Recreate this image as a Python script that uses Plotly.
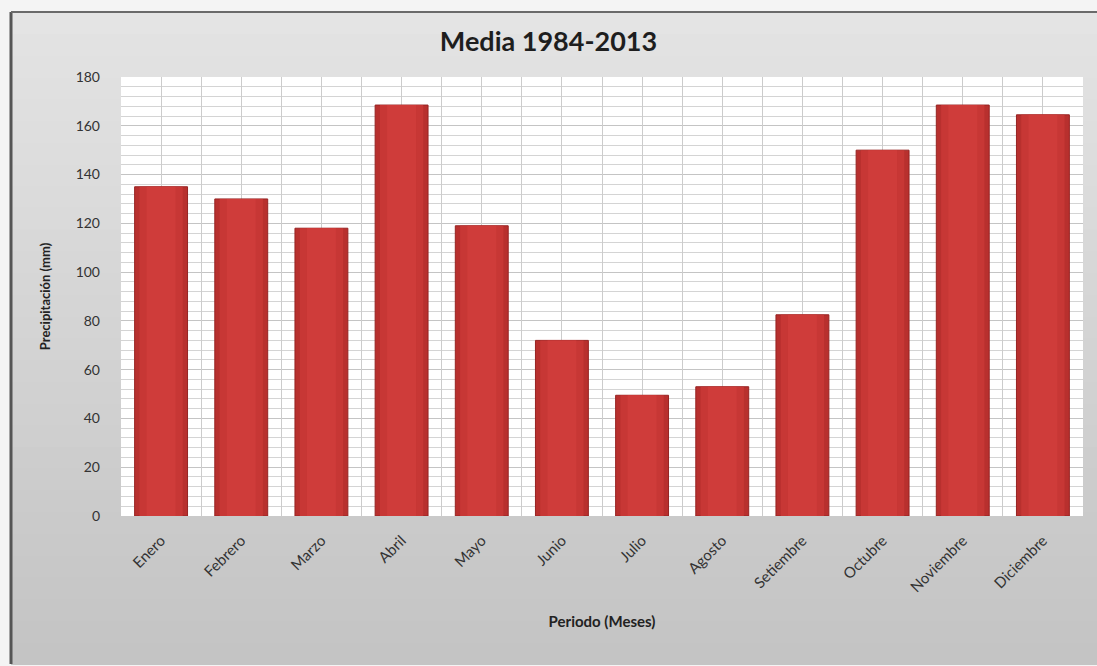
import plotly.graph_objects as go

meses = ["Enero", "Febrero", "Marzo", "Abril", "Mayo", "Junio", "Julio",
         "Agosto", "Setiembre", "Octubre", "Noviembre", "Diciembre"]
precipitacion = [135, 130, 118, 168.5, 119, 72, 49.5, 53, 82.5, 150, 168.5, 164.5]
titulo = "Media 1984-2013"
eje_y = "Precipitación (mm)"
eje_x = "Periodo (Meses)"

FONT = "Lato"
W, H = 1097, 666
ML, MR, MT, MB = 121, 14, 77, 150
PW, PH = W - ML - MR, H - MT - MB


def px_x(p):
    return (p - ML) / PW


def px_y(p):
    return (H - MB - p) / PH


fig = go.Figure()

# invisible trace to activate the vertical-grid overlay axis
fig.add_trace(go.Scatter(x=[0], y=[0], xaxis="x2", mode="markers",
                         marker=dict(opacity=0), hoverinfo="skip",
                         showlegend=False))
# main bars
fig.add_trace(go.Bar(
    x=meses, y=precipitacion, width=0.66,
    marker=dict(color="#b8302e", line=dict(color="#962322", width=1)),
    hoverinfo="x+y", showlegend=False,
))
# lighter central part to imitate the cylinder shading
fig.add_trace(go.Bar(
    x=meses, y=precipitacion, width=0.54,
    marker=dict(color="#c73735", line=dict(width=0)),
    hoverinfo="skip", showlegend=False,
))
fig.add_trace(go.Bar(
    x=meses, y=precipitacion, width=0.36,
    marker=dict(color="#cf3c3a", line=dict(width=0)),
    hoverinfo="skip", showlegend=False,
))
fig.update_layout(barmode="overlay")

# background gradient bands inside the frame
shapes = []
frame_top, frame_bot = 12, 664
frame_left = 11
n = 30
for i in range(n):
    t = i / (n - 1)
    g = int(228 - 32 * t)
    p0 = frame_top + (frame_bot - frame_top) * i / n
    p1 = frame_top + (frame_bot - frame_top) * (i + 1) / n + 1
    shapes.append(dict(type="rect", xref="paper", yref="paper",
                       x0=px_x(frame_left), x1=px_x(W + 5),
                       y0=px_y(p1), y1=px_y(p0),
                       fillcolor=f"rgb({g},{g},{g})", line=dict(width=0),
                       layer="below"))
# frame border
shapes.append(dict(type="line", xref="paper", yref="paper",
                   x0=px_x(frame_left), x1=px_x(frame_left),
                   y0=px_y(frame_bot), y1=px_y(frame_top),
                   line=dict(color="#555555", width=3)))
shapes.append(dict(type="line", xref="paper", yref="paper",
                   x0=px_x(frame_left), x1=px_x(W + 5),
                   y0=px_y(frame_top), y1=px_y(frame_top),
                   line=dict(color="#6a6a6a", width=2)))
# white plot area
shapes.append(dict(type="rect", xref="paper", yref="paper",
                   x0=0, x1=1, y0=0, y1=1, fillcolor="white",
                   line=dict(width=0), layer="below"))

fig.update_layout(
    width=W, height=H,
    margin=dict(l=ML, r=MR, t=MT, b=MB),
    paper_bgcolor="#f4f4f4",
    plot_bgcolor="rgba(0,0,0,0)",
    shapes=shapes,
    title=dict(text=f"<b>{titulo}</b>", x=0.5, xanchor="center",
               y=0.937, yanchor="middle",
               font=dict(family=FONT, size=27, color="#1e1e1e")),
    font=dict(family=FONT, color="#333333"),
    yaxis=dict(range=[0, 180], dtick=20, tick0=0,
               showgrid=True, gridcolor="#c4c4c4", gridwidth=1,
               minor=dict(dtick=4, showgrid=True, gridcolor="#d4d4d4", gridwidth=1),
               zeroline=False, showline=False, ticks="",
               tickfont=dict(family=FONT, size=14, color="#333333"),
               ticklabelstandoff=20,
               title=dict(text=f"<b>{eje_y}</b>", standoff=22,
                          font=dict(family=FONT, size=13, color="#222222"))),
    xaxis=dict(type="category", showgrid=False, showline=False, ticks="",
               tickangle=-45, ticklabelstandoff=12,
               tickfont=dict(family=FONT, size=15, color="#333333"),
               title=dict(text=f"<b>{eje_x}</b>", standoff=22,
                          font=dict(family=FONT, size=15, color="#222222"))),
    xaxis2=dict(overlaying="x", range=[-0.5, len(meses) - 0.5], dtick=0.5,
                tick0=-0.5, showgrid=True, gridcolor="#cccccc", gridwidth=1,
                showticklabels=False, ticks="", zeroline=False,
                layer="below traces"),
)

fig.write_html("out.html")
